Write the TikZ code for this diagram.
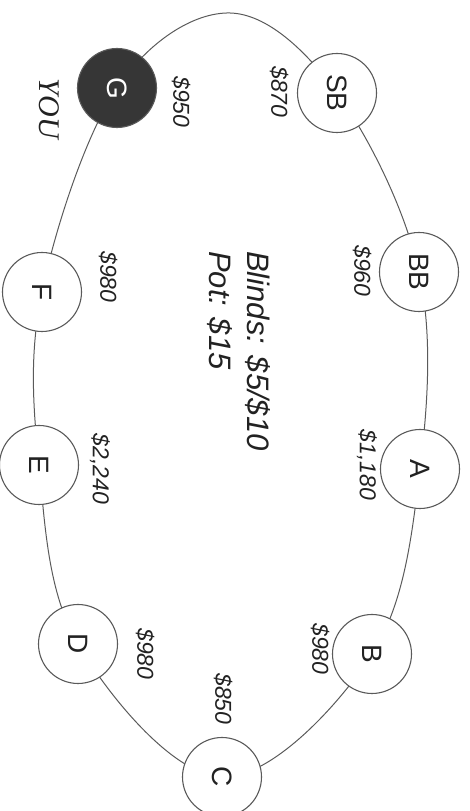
\documentclass[tikz,border=0pt]{standalone}
\usepackage{fontspec}
\setmainfont{Liberation Sans}
\newfontfamily\youfont{Liberation Serif}
\usetikzlibrary{backgrounds}
\definecolor{tablegray}{HTML}{5A5A5A}
\definecolor{ink}{HTML}{222222}
\definecolor{herofill}{HTML}{363636}
\begin{document}
\begin{tikzpicture}[x=1pt,y=1pt,
  seat/.style={circle, draw=tablegray, line width=1.1pt, fill=white, minimum size=79pt, inner sep=0pt, rotate=-90, text=ink, font=\fontsize{28}{30}\selectfont},
  hero/.style={seat, fill=herofill, text=white},
  chips/.style={rotate=-90, inner sep=0pt, text=ink, font=\fontsize{23}{26}\selectfont\itshape},
  rim/.style={draw=tablegray, line width=1pt},
]
\useasboundingbox (0,0) rectangle (469,811);
\node[hero] (G)  at (117,723) {G};
\node[seat] (SB) at (337,718) {SB};
\node[seat] (BB) at (419,539) {BB};
\node[seat] (A)  at (420,342) {A};
\node[seat] (B)  at (372,157) {B};
\node[seat] (C)  at (222,34)  {C};
\node[seat] (D)  at (78,167)  {D};
\node[seat] (E)  at (39,346)  {E};
\node[seat] (F)  at (42,519)  {F};
\coordinate (top) at (230,798);
\begin{scope}[on background layer]
  \draw[rim] plot[smooth cycle, tension=0.6] coordinates {(G) (top) (SB) (BB) (A) (B) (C) (D) (E) (F)};
\end{scope}
\node[chips] (lG)  at (181,709) {\$950};
\node[chips] (lSB) at (279,719) {\$870};
\node[chips] (lBB) at (362,540) {\$960};
\node[chips] (lA)  at (367,346) {\$1,180};
\node[chips] (lB)  at (320,162) {\$980};
\node[chips] (lC)  at (223,112) {\$850};
\node[chips] (lD)  at (145,157) {\$980};
\node[chips] (lE)  at (100,342) {\$2,240};
\node[chips] (lF)  at (108,534) {\$980};
\node[rotate=-90, inner sep=0pt, text=ink, font=\youfont\fontsize{30}{32}\selectfont\itshape] (you) at (49,702) {YOU};
\node[rotate=-90, inner sep=0pt, align=left, text=ink, font=\fontsize{31}{38}\selectfont\itshape] (blinds) at (239,460) {Blinds: \$5/\$10\\Pot: \$15};
\end{tikzpicture}
\end{document}
